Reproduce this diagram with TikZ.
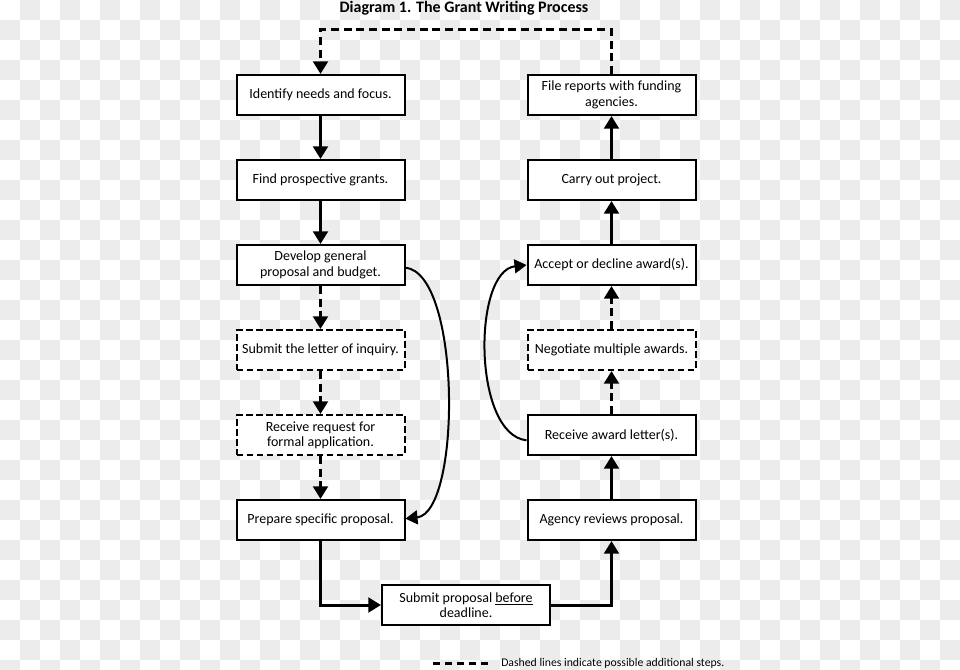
\documentclass[tikz,border=0pt]{standalone}
\usepackage{fontspec}
\setmainfont{Carlito}
\usetikzlibrary{arrows.meta}
\definecolor{chk}{HTML}{ECECEC}

\begin{document}
\begin{tikzpicture}[x=0.75pt,y=-0.75pt,
    box/.style={draw,line width=1.5pt,fill=white,minimum width=126pt,minimum height=30pt,
        inner sep=0pt,align=center,font=\fontsize{10.5}{11.5}\selectfont},
    optbox/.style={box,dash pattern=on 5pt off 2.5pt},
    conn/.style={line width=2.25pt,-{Triangle[length=9.5pt,width=11pt]}},
    optconn/.style={conn,dash pattern=on 6pt off 3.5pt},
    curvearr/.style={line width=1.5pt,-{Triangle[length=9pt,width=10.5pt]}}]
    \useasboundingbox (0,0) rectangle (960,670);

    % Sfondo a scacchi
    \begin{scope}
        \clip (0,0) rectangle (960,670);
        \foreach \j in {0,...,33} {
            \pgfmathtruncatemacro{\off}{mod(\j+1,2)}
            \foreach \i in {0,2,...,46}
                \fill[chk] ({(\i+\off)*20},{\j*20}) rectangle ++(20,20);
        }
    \end{scope}

    % Titolo
    \node[font=\bfseries\fontsize{12}{14}\selectfont] (title) at (464,8) {Diagram 1. The Grant Writing Process};

    % Colonna sinistra
    \node[box] (ident) at (320.5,95) {Identify needs and focus.};
    \node[box] (find) at (320.5,180) {Find prospective grants.};
    \node[box] (dev) at (320.5,265) {Develop general\\proposal and budget.};
    \node[optbox] (letter) at (320.5,350) {Submit the letter of inquiry.};
    \node[optbox] (request) at (320.5,435) {Receive request for\\formal application.};
    \node[box] (prep) at (320.5,520) {Prepare specific proposal.};

    % Colonna destra
    \node[box] (reports) at (611.5,95) {File reports with funding\\agencies.};
    \node[box] (carry) at (611.5,180) {Carry out project.};
    \node[box] (accept) at (611.5,265) {Accept or decline award(s).};
    \node[optbox] (negot) at (611.5,350) {Negotiate multiple awards.};
    \node[box] (letters) at (611.5,435) {Receive award letter(s).};
    \node[box] (agency) at (611.5,520) {Agency reviews proposal.};

    % Invio
    \node[box] (submit) at (466,605) {Submit proposal \underline{before}\\deadline.};

    % Frecce piene
    \foreach \a/\b in {ident/find, find/dev, agency/letters, accept/carry, carry/reports}
        \draw[conn] (\a) -- (\b);
    \draw[conn] (prep.south) |- (submit.west);
    \draw[conn] (submit.east) -| (agency.south);

    % Frecce tratteggiate
    \foreach \a/\b in {dev/letter, letter/request, request/prep, letters/negot, negot/accept}
        \draw[optconn] (\a) -- (\b);
    \draw[optconn] (reports.north) -- ++(0,-44) -| (ident.north);

    % Scorciatoie curve
    \draw[curvearr] ([yshift=-2pt]dev.east) .. controls +(56,6) and +(56,-6) .. ([yshift=1pt]prep.east);
    \draw[curvearr] ([yshift=-4pt]letters.west) .. controls +(-54,-6) and +(-54,6) .. (accept.west);

    % Legenda
    \coordinate (legA) at (433,663);
    \coordinate (legB) at (488,663);
    \draw[line width=2.25pt,dash pattern=on 5.5pt off 3.5pt] (legA) -- (legB);
    \node[anchor=west,inner sep=0pt,font=\fontsize{8.8}{10}\selectfont] (legtxt) at (501,663)
        {Dashed lines indicate possible additional steps.};
\end{tikzpicture}
\end{document}
